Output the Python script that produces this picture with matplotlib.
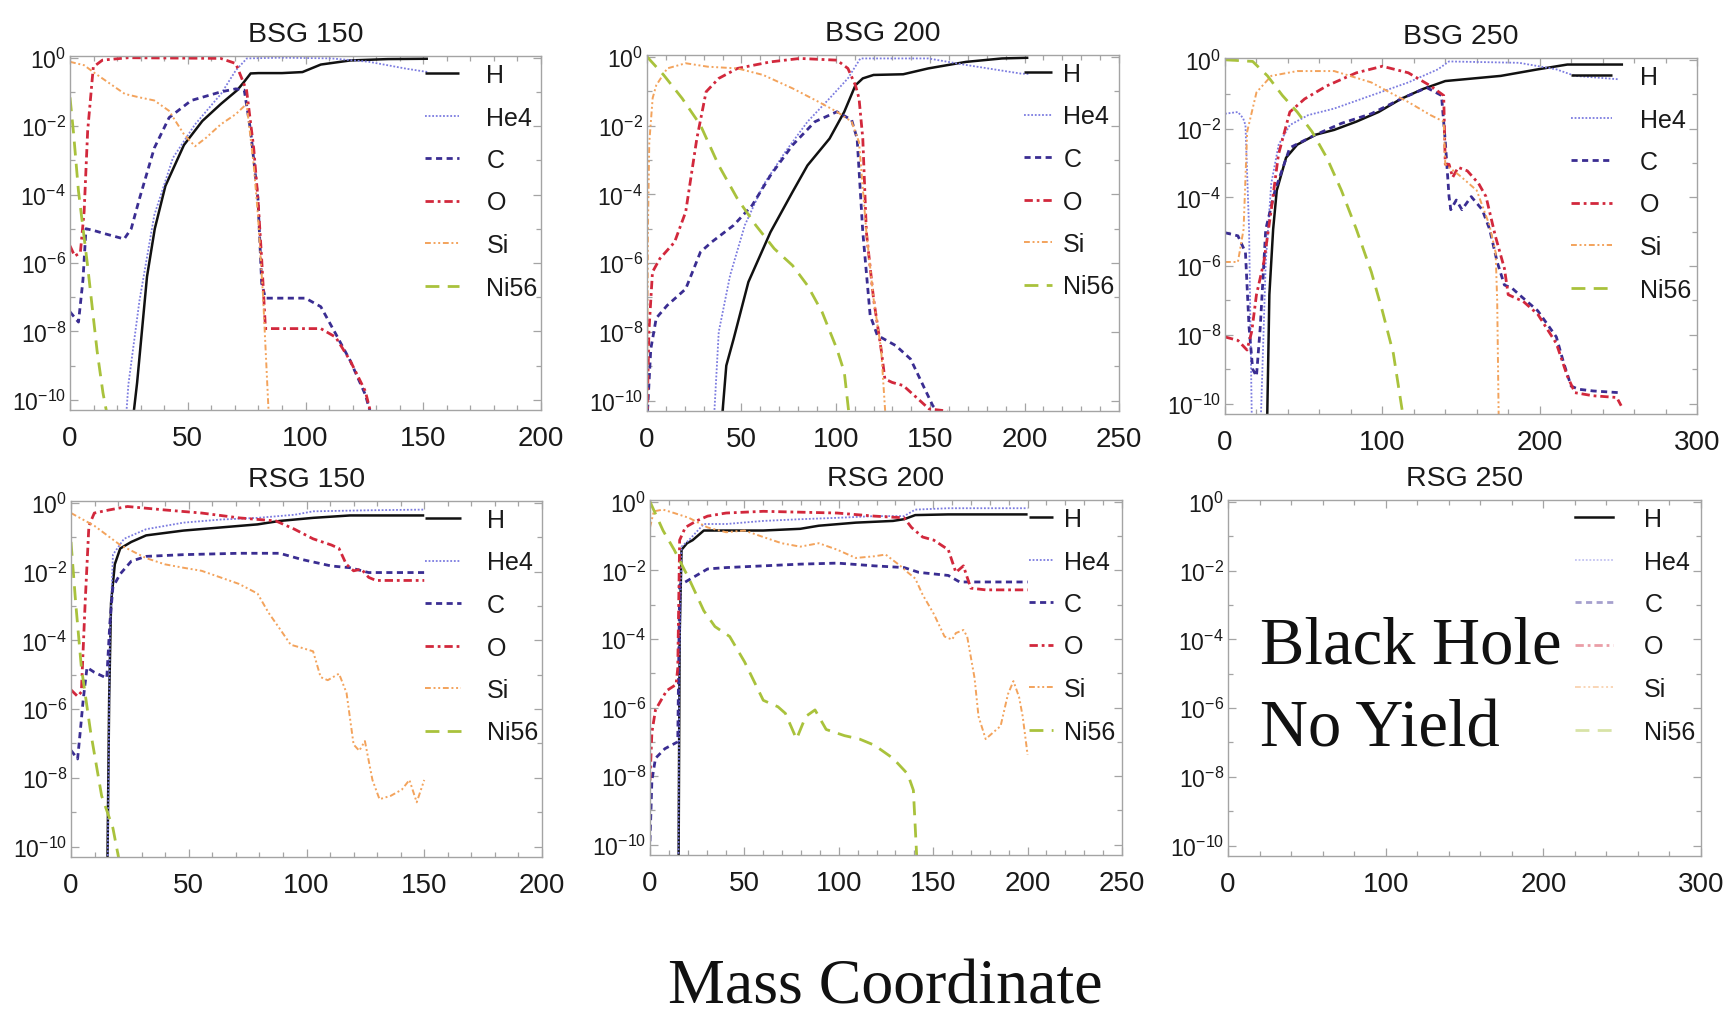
import numpy as np
import matplotlib
matplotlib.use("Agg")
import matplotlib.pyplot as plt
from matplotlib.ticker import FixedLocator, MultipleLocator, FuncFormatter, NullFormatter

plt.rcParams['font.family'] = ['Liberation Sans', 'DejaVu Sans']
plt.rcParams['mathtext.default'] = 'regular'

# ---- abundance profiles: (mass coordinate, log10 mass fraction) ----
species = ["H", "He4", "C", "O", "Si", "Ni56"]

# BSG 150
bsg150_H = [(26.0, -11), (28.5, -9.5), (32.7, -6.4), (36, -5.0), (40.5, -3.75), (48.4, -2.55),
            (56.2, -1.85), (64.1, -1.35), (71, -0.95), (74, -0.7), (76.7, -0.46), (80, -0.45),
            (90, -0.45), (98.7, -0.42), (106.5, -0.2), (119, -0.08), (135, -0.04), (152, -0.03)]
bsg150_He4 = [(23.3, -11), (24.8, -9.55), (29.5, -7.1), (35.8, -4.6), (43.7, -2.93), (53.1, -1.95),
              (64.1, -1.06), (70.4, -0.37), (75.1, -0.02), (90, 0.0), (111, -0.02), (127, -0.12),
              (142.7, -0.32), (152, -0.42)]
bsg150_C = [(0, -7.43), (3.6, -7.73), (5.5, -6.5), (6.8, -5.0), (10, -5.05), (15, -5.15), (23, -5.3),
            (26, -5.0), (29.5, -4.12), (35.8, -2.64), (42.1, -1.75), (51.5, -1.25), (64, -1.0),
            (70.4, -0.91), (74, -0.95), (76.7, -2.14), (79.8, -4.12), (81.4, -6.6), (83, -7.03),
            (100, -7.03), (106.5, -7.28), (112.8, -8.07), (119, -8.86), (125.4, -9.85), (128.5, -10.6)]
bsg150_O = [(0, -5.5), (2, -5.8), (4.4, -5.7), (6, -4.5), (7.5, -2.14), (9.9, -0.27), (13.8, -0.07),
            (24.8, 0.0), (64, -0.02), (70.4, -0.17), (75, -0.96), (78, -2.64), (79.8, -4.12),
            (81.4, -5.9), (83, -7.92), (106.5, -7.92), (112.8, -8.17), (119, -8.86), (125.4, -9.75),
            (128.5, -10.6)]
bsg150_Si = [(0, -0.12), (6, -0.22), (10.7, -0.46), (17, -0.76), (23.3, -1.06), (29.5, -1.16),
             (35.8, -1.25), (42, -1.55), (48.4, -2.24), (53.1, -2.59), (57.8, -2.34), (64, -1.95),
             (70.4, -1.65), (75, -1.35), (78, -3.13), (79.8, -4.6), (82, -7.0), (84.5, -10.6)]
bsg150_Ni56 = [(0, -1.16), (1.5, -2.2), (3.6, -3.9), (7.5, -6.1), (11.5, -8.57), (14, -9.8), (16.2, -10.6)]

# BSG 200
bsg200_H = [(39, -11), (42, -8.98), (45.9, -8.2), (53.7, -6.55), (65.4, -5.1), (77.1, -3.93),
            (85, -3.16), (96.7, -2.38), (104.5, -1.6), (110.4, -0.83), (114.3, -0.63), (120, -0.53),
            (135.7, -0.51), (149, -0.34), (169, -0.15), (188, -0.05), (202, -0.03)]
bsg200_He4 = [(35, -11), (38, -8.0), (44, -6.36), (51.8, -4.9), (61.5, -3.74), (73.2, -2.77),
              (85, -1.89), (96.7, -1.21), (106.4, -0.63), (113, -0.05), (149, -0.05), (169, -0.24),
              (198, -0.49), (202, -0.5)]
bsg200_C = [(0, -10.6), (2, -8.5), (4.9, -7.6), (10.7, -7.23), (20.5, -6.75), (28.3, -5.68),
            (34.2, -5.39), (45.9, -4.9), (55.7, -4.32), (65.4, -3.45), (77.1, -2.57), (88.9, -1.89),
            (100.6, -1.6), (108.4, -1.84), (111.3, -2.38), (114.3, -5.1), (118.2, -7.52), (122, -8.1),
            (131.8, -8.4), (139.6, -8.79), (145.5, -9.47), (151.4, -10.15), (159, -10.6)]
bsg200_O = [(0, -10.6), (1, -8.0), (2.9, -6.26), (6.8, -5.87), (14.6, -5.39), (20.5, -4.51),
            (26.4, -2.38), (31.3, -1.02), (38, -0.63), (47.9, -0.34), (65.4, -0.15), (81, -0.05),
            (100.6, -0.1), (106.4, -0.34), (110.4, -0.83), (112.3, -1.21), (114.3, -2.38),
            (116.2, -5.1), (120, -7.04), (124, -8.5), (126, -9.37), (129.9, -9.47), (135.7, -9.56),
            (143.6, -9.95), (149.4, -10.24), (159, -10.3)]
bsg200_Si = [(0, -10.6), (0.5, -5.0), (1.2, -2.5), (3, -1.2), (4.9, -0.83), (10.7, -0.34),
             (20.5, -0.19), (32.2, -0.29), (47.9, -0.34), (61.5, -0.53), (77.1, -0.92), (90.8, -1.31),
             (100.6, -1.6), (108.4, -1.89), (112.3, -2.48), (116.2, -5.1), (120, -7.04), (124, -8.5),
             (126.5, -10.6)]
bsg200_Ni56 = [(0, 0.0), (8.8, -0.53), (18.6, -1.21), (28.3, -1.99), (38, -3.16), (47.9, -4.13),
               (57.6, -4.9), (67.4, -5.58), (77.1, -6.07), (85, -6.65), (92.8, -7.43), (100.6, -8.5),
               (104.5, -9.17), (107.4, -10.6)]

# BSG 250
bsg250_H = [(26.6, -11), (28.2, -6.83), (30.6, -4.93), (32.9, -3.8), (38.8, -2.85), (45.9, -2.47),
            (57.6, -2.18), (69.4, -2.04), (83.5, -1.8), (97.6, -1.52), (111.8, -1.14), (125.9, -0.85),
            (140, -0.62), (151.8, -0.57), (175.3, -0.47), (198.8, -0.28), (217.6, -0.14), (253, -0.14)]
bsg250_He4 = [(0, -1.57), (8.2, -1.52), (11.5, -1.7), (13, -1.9), (15.3, -4.93), (17.2, -11),
              (22.4, -11), (25.9, -5.88), (29.4, -3.6), (34.1, -2.47), (41.2, -1.9), (52.9, -1.61),
              (69.4, -1.42), (92.9, -1.04), (116.5, -0.66), (135.3, -0.28), (142.4, -0.05),
              (187, -0.09), (210.6, -0.28), (222.4, -0.47), (250.6, -0.57)]
bsg250_C = [(0, -5.03), (8.2, -5.12), (13, -5.6), (15.3, -7.78), (17.6, -9.0), (20, -9.2),
            (22.4, -7.78), (25.9, -4.93), (31.8, -3.8), (41.2, -2.56), (57.6, -2.18), (74, -1.85),
            (93, -1.57), (111.8, -1.14), (128.2, -0.81), (137.6, -1.04), (140, -2.37), (142.4, -3.98),
            (143.5, -4.36), (147, -4.08), (150.6, -4.36), (156.5, -3.98), (163.5, -4.36),
            (168.2, -4.93), (173, -5.88), (177.6, -6.55), (182.4, -6.64), (187, -6.83), (198.8, -7.3),
            (210.6, -8.06), (215.3, -8.82), (220, -9.49), (224.7, -9.58), (234, -9.63), (250.6, -9.68)]
bsg250_O = [(0, -8.06), (8.2, -8.16), (14, -8.44), (17, -7.9), (20, -6.83), (24.7, -5.88),
            (29.4, -4.36), (34, -2.75), (41.2, -1.52), (50.6, -1.14), (64.7, -0.76), (83.5, -0.38),
            (100, -0.19), (116.5, -0.38), (130.6, -0.76), (139, -1.04), (140, -3.04), (142.4, -3.04),
            (144.7, -3.42), (148.2, -3.13), (154, -3.23), (161.2, -3.6), (165.9, -3.98),
            (171.8, -5.12), (177.6, -6.07), (180, -6.83), (184.7, -6.93), (189.4, -7.02),
            (198.8, -7.4), (210.6, -8.25), (217.6, -9.2), (222.4, -9.68), (234, -9.77), (249, -9.82),
            (251.8, -10.06)]
bsg250_Si = [(0, -5.88), (8.2, -5.88), (11.8, -4.93), (14.1, -2.09), (20, -0.95), (29.4, -0.47),
             (45.9, -0.33), (69.4, -0.33), (93, -0.66), (104.7, -0.95), (116.5, -1.23), (130.6, -1.61),
             (139, -1.8), (140, -3.04), (150, -3.4), (160, -3.8), (168, -4.8), (172, -5.6), (173, -7),
             (174, -10.6)]
bsg250_Ni56 = [(0, 0.0), (17.6, -0.05), (27, -0.47), (36.5, -1.04), (45.9, -1.52), (55.3, -2.09),
               (64.7, -2.85), (74, -3.8), (83.5, -4.93), (93, -6.17), (100, -7.3), (107, -8.54),
               (114, -10.6)]

# RSG 150
rsg150_H = [(15.4, -11), (16.2, -5.72), (17, -2.92), (18.6, -1.79), (20.9, -1.33), (25.6, -1.14),
            (31.9, -0.95), (47.7, -0.81), (63.4, -0.72), (79.2, -0.63), (88.6, -0.53),
            (102.8, -0.44), (118.5, -0.37), (150, -0.37)]
rsg150_He4 = [(15.5, -11), (16.5, -4.0), (17.8, -1.51), (22.5, -1.05), (31.9, -0.77), (47.7, -0.58),
              (63.4, -0.49), (79.2, -0.44), (95, -0.35), (102.8, -0.25), (126.4, -0.22), (150, -0.2)]
rsg150_C = [(0, -7.2), (2.8, -7.45), (4, -6.6), (5.2, -5.72), (6.8, -4.79), (9.9, -4.93),
            (15.2, -5.1), (16.5, -3.5), (17.8, -2.45), (20.9, -2.07), (25.6, -1.7), (31.9, -1.56),
            (47.7, -1.51), (71.3, -1.47), (88.6, -1.47), (98, -1.65), (110.6, -1.84), (118.5, -1.89),
            (126.4, -2.03), (150, -2.03)]
rsg150_O = [(0, -5.44), (2.8, -5.63), (4.4, -5.5), (6, -2.92), (7.6, -0.67), (9.9, -0.3),
            (16.2, -0.21), (24, -0.11), (39.8, -0.21), (55.5, -0.3), (71.3, -0.44), (87, -0.53),
            (94.9, -0.77), (102.8, -1.05), (110.6, -1.23), (113.8, -1.33), (116.9, -1.79),
            (120, -1.98), (123.3, -1.93), (126.4, -2.17), (129.5, -2.26), (150, -2.26)]
rsg150_Si = [(0, -0.3), (9.9, -0.67), (20.9, -1.23), (31.9, -1.61), (39.8, -1.79), (47.7, -1.89),
             (55.5, -1.98), (63.4, -2.17), (71.3, -2.36), (79.2, -2.64), (83.9, -3.2), (88.6, -3.66),
             (93.3, -4.13), (98, -4.22), (102.8, -4.32), (106, -5.07), (109, -5.16), (113.8, -4.97),
             (117, -5.53), (120, -7.03), (122.4, -7.21), (124.8, -6.93), (128, -8.06), (131, -8.62),
             (135.8, -8.52), (140.5, -8.34), (143.7, -8.06), (146.8, -8.71), (150, -8.06)]
rsg150_Ni56 = [(0, -1.14), (2, -2.92), (4.4, -4.79), (8.3, -6.65), (13, -8.52), (17.8, -9.46), (21, -10.6)]

# RSG 200
rsg200_H = [(15.1, -11), (15.7, -3.93), (16.7, -1.4), (19.6, -1.21), (22.6, -1.12), (28.5, -0.84),
            (32.4, -0.84), (60, -0.84), (79.6, -0.79), (89.4, -0.7), (109, -0.61), (128.7, -0.56),
            (134.6, -0.51), (140.5, -0.39), (158, -0.37), (200, -0.37)]
rsg200_He4 = [(15, -11), (15.6, -4.5), (16.7, -1.31), (20.6, -1.12), (28.5, -0.65), (40.3, -0.65),
              (60, -0.56), (79.6, -0.51), (99.2, -0.47), (118.9, -0.42), (134.6, -0.42),
              (140.5, -0.23), (158, -0.19), (200, -0.19)]
rsg200_C = [(0, -9.9), (1, -8.13), (2.9, -7.48), (7.9, -7.2), (14.7, -7.0), (15.7, -2.43),
            (18.7, -2.34), (24.6, -2.15), (30.5, -1.96), (40.3, -1.92), (60, -1.87), (79.6, -1.82),
            (99.2, -1.79), (118.9, -1.87), (134.6, -1.92), (142.4, -2.06), (158, -2.15), (164, -2.34),
            (177.8, -2.34), (200, -2.34)]
rsg200_O = [(0, -8.13), (1, -6.73), (2.9, -6.07), (8.8, -5.51), (13.8, -5.33), (14.7, -4.86),
            (15.7, -1.12), (18.7, -0.75), (24.6, -0.56), (30.5, -0.42), (40.3, -0.33), (60, -0.28),
            (99.2, -0.33), (118.9, -0.42), (134.6, -0.47), (138.5, -0.75), (144.4, -1.03),
            (150.3, -1.12), (158, -1.4), (162, -2.06), (166, -1.87), (169.9, -2.52), (177.8, -2.57),
            (200, -2.57)]
rsg200_Si = [(0, -0.75), (2, -0.28), (6.9, -0.23), (12.8, -0.33), (20.6, -0.47), (30.5, -0.75),
             (40.3, -0.89), (50.1, -0.84), (60, -1.03), (69.7, -1.21), (79.6, -1.31), (89.4, -1.21),
             (99.2, -1.4), (109, -1.64), (118.9, -1.59), (124.8, -1.54), (132.6, -1.87),
             (136.5, -2.06), (140.5, -2.24), (144.4, -2.71), (150.3, -3.27), (156, -3.93),
             (160, -4.02), (162, -3.83), (166, -3.74), (168, -3.93), (171.9, -5.14), (174, -6.26),
             (177.8, -6.92), (181.7, -6.73), (185.7, -6.54), (189.6, -5.61), (192.5, -5.23),
             (195.5, -5.7), (197.4, -6.26), (200, -7.38)]
rsg200_Ni56 = [(0, 0.0), (6.9, -0.84), (12.8, -1.4), (20.6, -2.24), (28.5, -3.18), (34.4, -3.64),
               (42.2, -3.93), (50.1, -4.67), (60, -5.79), (67.8, -5.98), (71.7, -6.17), (77.6, -6.92),
               (82.5, -6.26), (87.4, -6.07), (93.3, -6.64), (103, -6.82), (111, -6.92),
               (118.9, -7.1), (128.7, -7.48), (136.5, -7.94), (139.5, -8.41), (141.5, -10.6)]

titles = ["BSG 150", "BSG 200", "BSG 250", "RSG 150", "RSG 200", "RSG 250"]
x_limits = [200, 250, 300, 200, 250, 300]
profiles = [
    [bsg150_H, bsg150_He4, bsg150_C, bsg150_O, bsg150_Si, bsg150_Ni56],
    [bsg200_H, bsg200_He4, bsg200_C, bsg200_O, bsg200_Si, bsg200_Ni56],
    [bsg250_H, bsg250_He4, bsg250_C, bsg250_O, bsg250_Si, bsg250_Ni56],
    [rsg150_H, rsg150_He4, rsg150_C, rsg150_O, rsg150_Si, rsg150_Ni56],
    [rsg200_H, rsg200_He4, rsg200_C, rsg200_O, rsg200_Si, rsg200_Ni56],
    None,
]

# ---- styling ----
line_styles = {
    "H":    dict(color="#111111", lw=1.8, ls="-"),
    "He4":  dict(color="#7c7ce0", lw=1.3, ls=(0, (1, 1))),
    "C":    dict(color="#3a2d92", lw=2.0, ls=(0, (2.2, 1.6))),
    "O":    dict(color="#d2283c", lw=2.0, ls=(0, (3, 1.4, 1, 1.4))),
    "Si":   dict(color="#f3a35c", lw=1.4, ls=(0, (3, 1.4, 1, 1.4, 1, 1.4))),
    "Ni56": dict(color="#a9c23c", lw=2.0, ls=(0, (5, 3))),
}

# panel boxes in pixels: left, top, right, bottom
W, H = 1729, 1020
boxes = [(70, 57, 541, 411), (647, 56, 1119, 412), (1225, 59, 1697, 415),
         (71, 502, 542, 858), (650, 501, 1122, 856), (1228, 501, 1701, 857)]
# legend geometry per panel: handle start (pixels), handle length, text pad
legend_geom = [(425, 1.36, 1.10), (1024, 1.12, 0.45), (1571, 1.64, 1.10),
               (425, 1.44, 1.05), (1029, 0.95, 0.45), (1575, 1.52, 1.25)]

fig = plt.figure(figsize=(W / 100, H / 100), dpi=100)

ylo, yhi = 10 ** -10.3, 10 ** 0.05
frame_col = "#a4a4a4"

def exp_label(v, pos):
    return r"$10^{%d}$" % int(round(np.log10(v)))

for i in range(6):
    l, t, r, b = boxes[i]
    ax = fig.add_axes([l / W, 1 - b / H, (r - l) / W, (b - t) / H])
    ax.set_yscale("log")
    ax.set_xlim(0, x_limits[i])
    ax.set_ylim(ylo, yhi)

    handles = []
    for k, name in enumerate(species):
        st = line_styles[name]
        if profiles[i] is not None:
            pts = np.array(profiles[i][k], dtype=float)
            ln, = ax.plot(pts[:, 0], 10 ** pts[:, 1], color=st["color"], lw=st["lw"],
                          ls=st["ls"], label=name, solid_capstyle="butt", dash_capstyle="butt")
        else:
            ln, = ax.plot([], [], color=st["color"], lw=st["lw"], ls=st["ls"], label=name,
                          alpha=1.0 if name == "H" else 0.45)
        handles.append(ln)

    # axes decoration
    ax.yaxis.set_major_locator(FixedLocator([10.0 ** e for e in range(0, -11, -2)]))
    ax.yaxis.set_minor_locator(FixedLocator([10.0 ** e for e in range(-1, -11, -2)]))
    ax.yaxis.set_major_formatter(FuncFormatter(exp_label))
    ax.yaxis.set_minor_formatter(NullFormatter())
    major_x = 50 if x_limits[i] <= 250 else 100
    minor_x = 10 if x_limits[i] <= 250 else 20
    ax.xaxis.set_major_locator(MultipleLocator(major_x))
    ax.xaxis.set_minor_locator(MultipleLocator(minor_x))

    ax.tick_params(axis="both", which="both", direction="in", top=True, right=True,
                   color=frame_col, width=0.9)
    ax.tick_params(axis="both", which="major", length=6)
    ax.tick_params(axis="both", which="minor", length=3.5)
    ax.tick_params(axis="x", which="major", labelsize=20, pad=11, labelcolor="#1a1a1a")
    ax.tick_params(axis="y", which="major", labelsize=16.5, pad=3, labelcolor="#1a1a1a")
    for sp in ax.spines.values():
        sp.set_color(frame_col)
        sp.set_linewidth(1.0)

    ax.set_title(titles[i], fontsize=20.5, pad=11, color="#1a1a1a")

    hx, hlen, hpad = legend_geom[i]
    leg = ax.legend(handles=handles, loc="upper left",
                    bbox_to_anchor=((hx - l) / (r - l), 1 - 7 / (b - t)),
                    frameon=False, fontsize=18, handlelength=hlen, handletextpad=hpad,
                    labelspacing=0.74, borderpad=0, borderaxespad=0)
    for txt in leg.get_texts():
        txt.set_color("#1a1a1a")

# no explosion for the RSG 250 model
serif = ["Liberation Serif", "DejaVu Serif"]
fig.text(1260 / W, 1 - 663 / H, "Black Hole", family=serif,
         fontsize=48, va="baseline", ha="left", color="#111111")
fig.text(1260 / W, 1 - 747 / H, "No Yield", family=serif,
         fontsize=48, va="baseline", ha="left", color="#111111")

fig.text(885 / W, 1 - 1004 / H, "Mass Coordinate", family=serif,
         fontsize=46, va="baseline", ha="center", color="#111111")

fig.savefig("out.png", dpi=100)
